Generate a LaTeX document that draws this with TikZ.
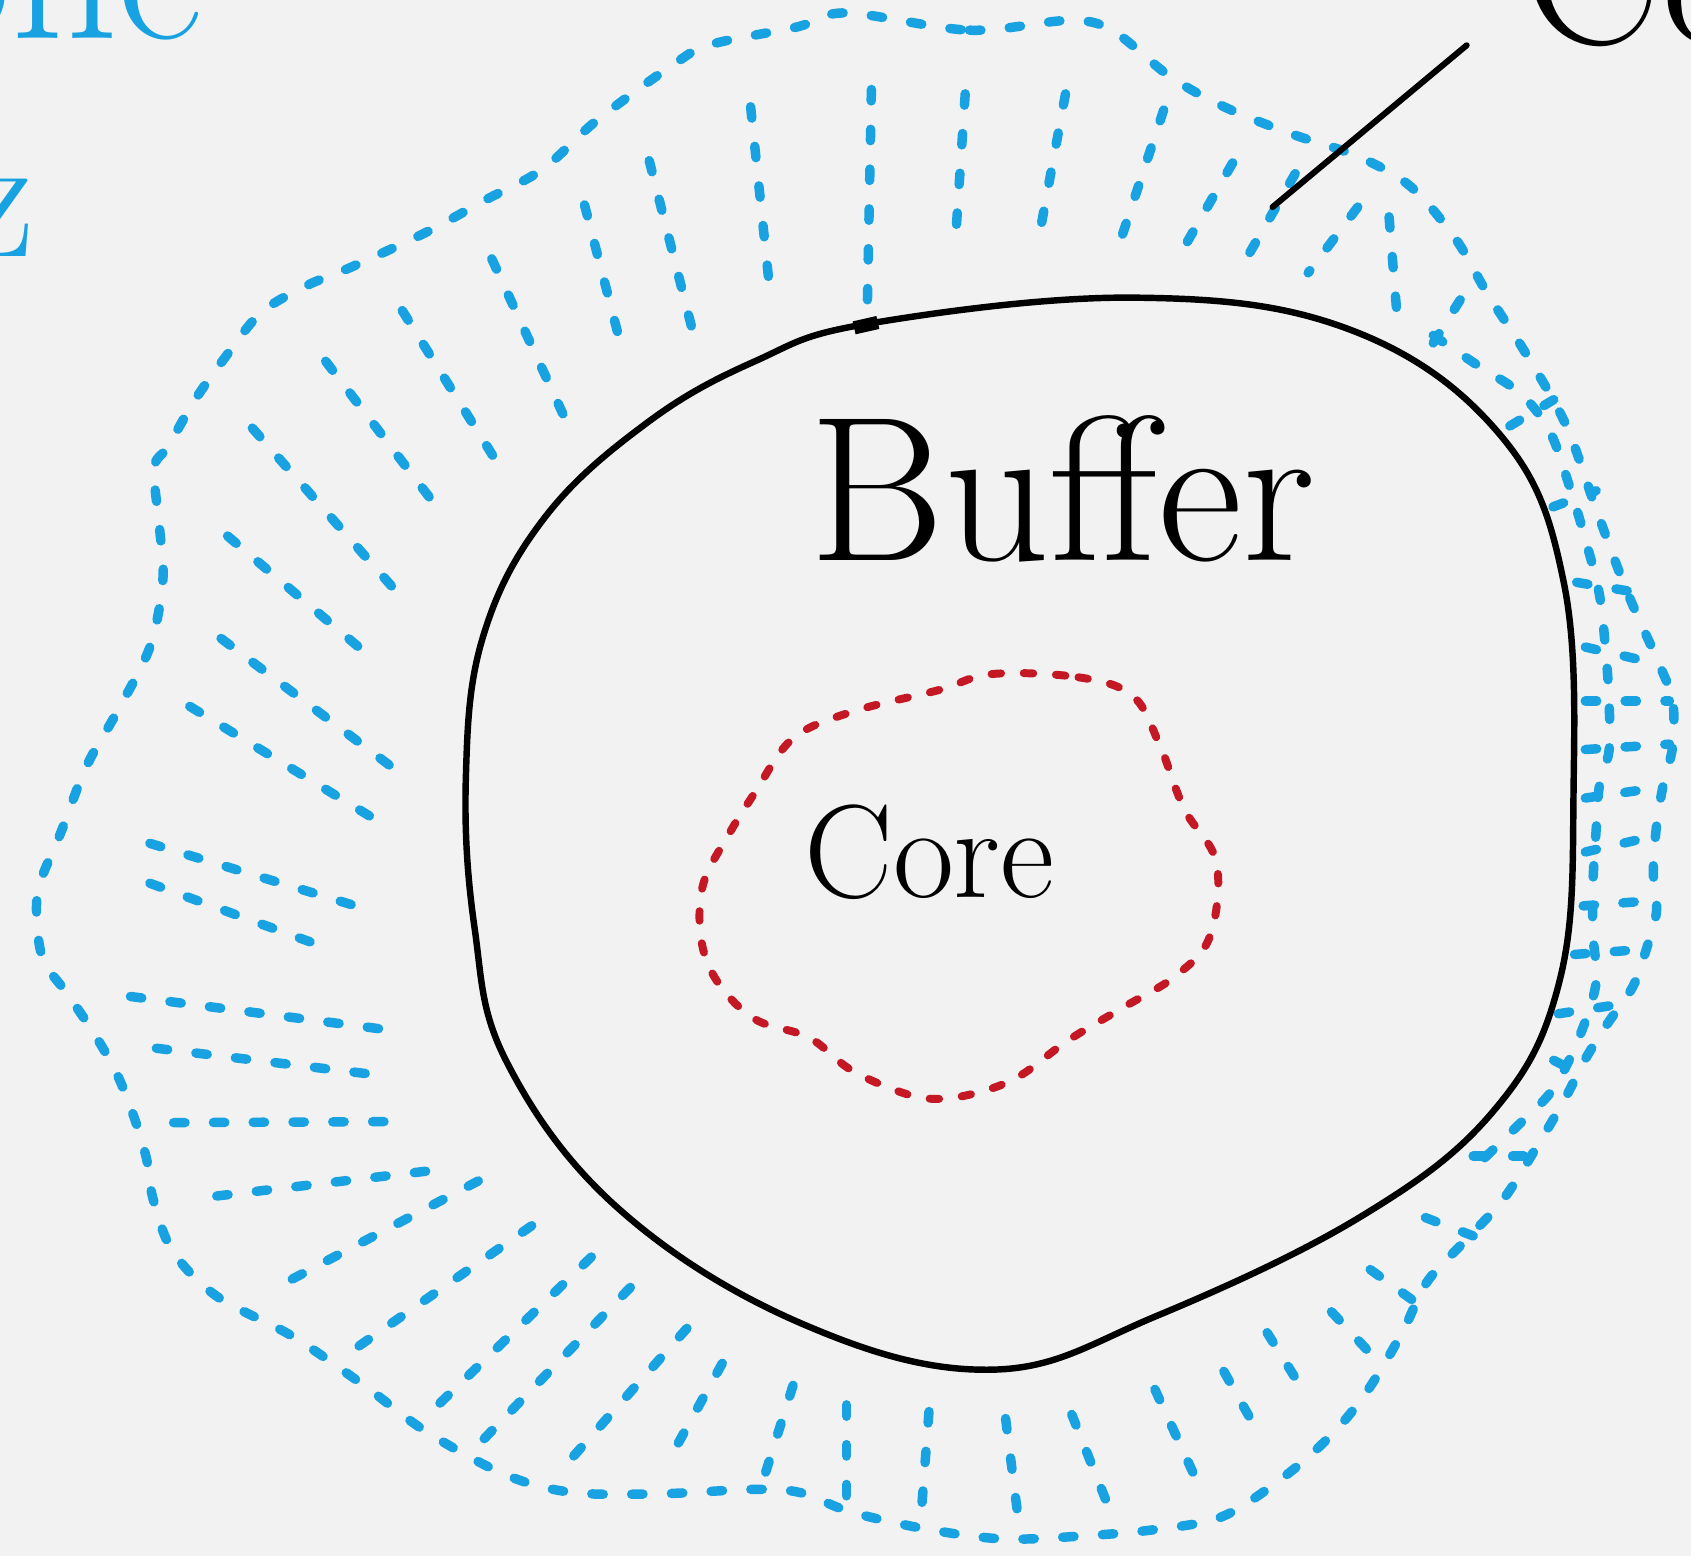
\documentclass[tikz,border=0pt]{standalone}
\definecolor{zoneblue}{RGB}{24,162,226}
\definecolor{corered}{RGB}{196,24,36}
\definecolor{paper}{RGB}{242,242,242}
\begin{document}
\begin{tikzpicture}[x=0.02cm,y=-0.02cm,
  zone/.style={draw=zoneblue, line width=5pt, line cap=round, dash pattern=on 6pt off 15pt},
  corebound/.style={draw=corered, line width=4.2pt, line cap=round, dash pattern=on 5pt off 12pt},
  bufbound/.style={draw=black, line width=3.4pt, line join=round},
  leader/.style={draw=black, line width=3.2pt, line cap=round},
  hand/.style={inner sep=0pt, outer sep=0pt}]
\fill[paper] (0,0) rectangle (1568,1443);
\useasboundingbox (0,0) rectangle (1568,1443);

% outer zone boundary
\draw[zone] plot[smooth cycle, tension=0.55] coordinates {
(785,12) (899,28) (990,19) (1031,28) (1085,71) (1135,99) (1197,124) (1259,145)
(1308,173) (1350,222) (1379,272) (1415,328) (1452,394) (1480,472) (1508,547)
(1539,617) (1551,650) (1551,692) (1542,729) (1536,766) (1533,808) (1536,845)
(1526,882) (1514,915) (1490,950) (1470,982) (1451,1019) (1427,1060) (1394,1112)
(1357,1152) (1323,1189) (1300,1236) (1267,1291) (1234,1331) (1191,1369) (1134,1406)
(1073,1418) (1007,1424) (931,1427) (860,1418) (789,1402) (742,1384) (698,1381)
(615,1385) (532,1384) (470,1368) (396,1328) (338,1285) (271,1239) (201,1202)
(160,1160) (142,1112) (136,1075) (124,1035) (108,995) (87,958) (62,921) (40,890)
(34,850) (37,819) (56,773) (80,711) (108,661) (139,600) (151,538) (148,490)
(143,434) (156,414) (180,372) (209,331) (242,290) (284,265) (325,248) (396,215)
(449,186) (503,157) (553,112) (627,58) (660,41) (739,25)};

% inner chain on the right side
\draw[zone] plot[smooth, tension=0.55] coordinates {
(1329,311) (1372,340) (1410,365) (1437,400) (1455,450) (1470,500) (1483,551)
(1489,605) (1492,650) (1492,696) (1483,729) (1480,770) (1477,820) (1477,866)
(1480,911) (1465,960) (1440,1010) (1404,1047) (1370,1080)};

% radial hatch lines
\foreach \xa/\ya/\xb/\yb in {
696/99/714/271, 602/149/642/306, 542/190/576/321, 456/240/528/397,
373/288/466/437, 302/335/408/474, 234/397/375/557, 211/497/342/608,
205/592/371/717, 176/655/358/766, 139/782/343/844, 139/819/303/879,
121/924/368/956, 145/972/352/997, 161/1041/362/1040, 201/1109/412/1084,
271/1186/453/1090, 333/1248/511/1124, 408/1301/553/1161, 449/1334/592/1186,
532/1350/650/1217, 629/1338/677/1251, 710/1365/739/1273, 785/1387/785/1285,
855/1393/862/1301, 943/1399/931/1304, 1025/1390/992/1307, 1106/1365/1068/1282,
1158/1313/1130/1263, 1200/1276/1167/1223, 1267/1251/1224/1205, 1309/1205/1262/1171,
1366/1146/1319/1128, 1413/1072/1366/1072, 1450/988/1427/976,
808/83/804/297, 895/87/886/222, 988/87/963/222, 1079/102/1038/226,
1143/151/1093/238, 1201/161/1155/241, 1259/192/1213/253, 1288/201/1296/300,
1354/278/1329/318,
1400/395/1450/365, 1440/470/1480/455, 1462/540/1510/548, 1470/600/1535/615,
1470/650/1548/650, 1470/695/1548/690, 1470/740/1540/730, 1470/790/1535/775,
1468/840/1533/835, 1460/885/1528/880, 1445/940/1510/930}
  \draw[zone] (\xa,\ya) -- (\xb,\yb);

% buffer boundary
\draw[bufbound] plot[smooth cycle, tension=0.65] coordinates {
(806,300) (1052,276) (1250,305) (1390,402) (1450,540) (1459,740) (1446,910)
(1385,1030) (1262,1128) (1073,1220) (921,1270) (745,1228) (575,1122)
(470,985) (440,860) (432,720) (448,590) (505,480) (600,392) (700,335)};
\draw[black, line width=7pt] (792,304) -- (814,299);

% core boundary
\draw[corebound] plot[smooth cycle, tension=0.6] coordinates {
(920,625) (1000,628) (1050,645) (1075,690) (1098,750) (1128,800)
(1122,868) (1090,905) (1040,935) (990,965) (945,998) (907,1013) (869,1019)
(836,1013) (789,992) (750,962) (700,945) (665,910) (650,870) (652,820)
(675,775) (700,735) (735,685) (790,660) (870,640)};

% labels
\node[hand, anchor=base] (buffer) at (985,520) {\fontsize{109}{120}\selectfont Buffer};
\node[hand, anchor=base] (core) at (862,832) {\fontsize{70}{80}\selectfont Core};
\node[hand, anchor=base east, text=zoneblue] (zonelabel) at (188,36) {\fontsize{110}{120}\selectfont one};
\node[hand, anchor=base east, text=zoneblue] (zonelabelb) at (32,238) {\fontsize{95}{110}\selectfont z};
\node[hand, anchor=base west] (colabel) at (1412,40) {\fontsize{110}{120}\selectfont Co};

% leader from label to zone
\coordinate (leadtop) at (1360,42);
\coordinate (leadend) at (1180,192);
\draw[leader] (leadtop) -- (leadend);
\end{tikzpicture}
\end{document}
